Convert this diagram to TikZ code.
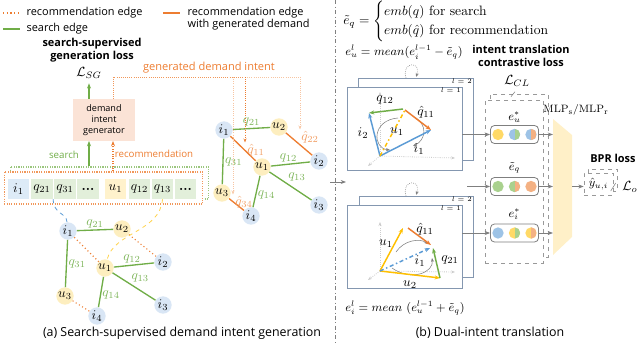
\documentclass[tikz,border=0pt]{standalone}
\usepackage{amsmath,amssymb}
\usepackage{fontspec}
\setsansfont{Open Sans}
\usepackage{tikz}
\usetikzlibrary{arrows.meta,calc,positioning}
\definecolor{intentOrange}{HTML}{ED7D31}
\definecolor{intentGreen}{HTML}{70AD47}
\definecolor{intentBlue}{HTML}{5B9BD5}
\definecolor{intentYellow}{HTML}{FFC000}
\definecolor{itemFill}{HTML}{D9E6F5}
\definecolor{userFill}{HTML}{FDEEBF}
\definecolor{cellBlue}{HTML}{DDEBF7}
\definecolor{cellGreen}{HTML}{E2EFDA}
\definecolor{cellYellow}{HTML}{FFF2CC}
\definecolor{genFill}{HTML}{FBE3D6}
\definecolor{mlpFill}{HTML}{FFF0C8}
\definecolor{dotYellow}{HTML}{FFD966}
\definecolor{dotBlue}{HTML}{9DC3E6}
\definecolor{dotGreen}{HTML}{A9D18E}
\definecolor{dotOrange}{HTML}{F4B183}
\definecolor{intentGray}{HTML}{7F7F7F}
\definecolor{panelGray}{HTML}{8497B0}
\tikzset{
  itemNode/.style={circle, fill=itemFill, inner sep=0pt, minimum size=13pt, font=\normalsize},
  userNode/.style={circle, fill=userFill, inner sep=0pt, minimum size=13pt, font=\normalsize},
  searchEdge/.style={intentGreen, line width=1pt},
  recEdge/.style={intentOrange, line width=0.8pt, dotted},
  genEdge/.style={intentOrange, line width=1pt},
  searchLabel/.style={text=intentGreen!90, font=\normalsize, inner sep=1pt},
  genLabel/.style={text=intentOrange!75, font=\normalsize, inner sep=1pt},
  legendText/.style={font=\sffamily\fontsize{8.2}{9}\selectfont, anchor=west, inner sep=1pt},
  sideText/.style={font=\sffamily\fontsize{7.3}{9}\selectfont, inner sep=1pt},
  boldText/.style={font=\sffamily\bfseries\fontsize{8.2}{10}\selectfont, align=center, inner sep=1pt},
  captionText/.style={font=\sffamily\fontsize{9.3}{11}\selectfont},
  genBox/.style={fill=genFill, minimum width=46.5pt, minimum height=31pt,
    font=\sffamily\fontsize{6.8}{8.4}\selectfont, align=center, inner sep=1pt},
  seqCell/.style={minimum width=16.3pt, minimum height=15pt, inner sep=0pt, font=\normalsize},
  seqFrame/.style={densely dotted, line width=0.8pt, fill=white,
    minimum width=149pt, minimum height=24pt},
  searchArrow/.style={intentGreen, line width=1pt, -{Stealth[length=4pt]}},
  recArrow/.style={intentOrange, densely dotted, line width=0.8pt, -{Stealth[length=4pt]}},
  demandArrow/.style={densely dotted, line width=0.6pt, -{Stealth[length=3pt]}},
  panelFrame/.style={draw=panelGray, line width=0.6pt, fill=white},
  axisArrow/.style={gray!40, densely dotted, line width=0.6pt, -{Stealth[length=3pt]}},
  vecArrow/.style={line width=1.1pt, -{Stealth[length=4pt]}},
  turnArrow/.style={gray, line width=0.4pt, -{Stealth[length=3pt]}},
  loopArrow/.style={gray, densely dotted, line width=0.5pt, -{Stealth[length=3pt]}},
  flowArrow/.style={intentGray, line width=0.6pt, -{Stealth[length=4pt]}},
  embBox/.style={draw=intentGray, rounded corners=3pt, line width=0.6pt,
    minimum width=36pt, minimum height=13.5pt},
  embDot/.style={circle, inner sep=0pt, minimum size=8.5pt, fill=#1},
  halfDot/.style 2 args={circle, inner sep=0pt, minimum size=8.5pt, fill=#1,
    path picture={\fill[#2] (path picture bounding box.north)
      rectangle (path picture bounding box.south east);}},
  groupFrame/.style={draw=intentGray!80, dashed, line width=0.5pt, fill=white},
  panelLabel/.style={font=\normalsize, inner sep=0.5pt},
  mathText/.style={font=\fontsize{9.2}{11}\selectfont, anchor=west, inner sep=0pt}
}
\begin{document}
\begin{tikzpicture}[x=0.75pt,y=-0.75pt]
  \useasboundingbox (0,0) rectangle (640,343);

  % legend
  \node[legendText] (legRec) at (25,13) {recommendation edge};
  \node[legendText] (legSearch) at (25,29) {search edge};
  \node[legendText, align=left] (legGen) at (186,19)
    {recommendation edge\\with generated demand};
  \draw[recEdge] ($(legRec.west)+(-22,0)$) -- ($(legRec.west)+(-5,0)$);
  \draw[searchEdge] ($(legSearch.west)+(-22,0)$) -- ($(legSearch.west)+(-5,0)$);
  \draw[genEdge] ($(legGen.west)+(-23,-6)$) -- ($(legGen.west)+(-6,-6)$);

  % (a) generator
  \node[boldText] (sgText) at (92,50) {search-supervised\\generation loss};
  \node[font=\normalsize] (lsg) at (89,73) {$\mathcal{L}_{SG}$};
  \node[genBox] (gen) at (104,120) {demand\\intent\\generator};
  \draw[searchArrow] (gen.north -| lsg) -- (lsg.south);

  \node[sideText, text=intentOrange, font=\sffamily\fontsize{8.3}{9}\selectfont] (gdText) at (209,68)
    {generated demand intent};
  \coordinate (gdTurn) at (113,77);
  \coordinate (gd34) at (233,77);
  \coordinate (gd11) at (245,77);
  \coordinate (gdEnd) at (300,77);
  \draw[intentOrange!80, densely dotted, line width=0.6pt]
    (gen.north -| gdTurn) -- (gdTurn) -- (gd11);
  \draw[intentOrange!45, densely dotted, line width=0.6pt] (gd11) -- (gdEnd);

  % (a) sequence bar
  \node[sideText, text=intentGreen] (lblSearch) at (64,155) {search};
  \node[sideText, text=intentOrange] (lblRec) at (154,154) {recommendation};
  \node[seqFrame, draw=intentGreen!70] (seqBack) at (109.5,183) {};
  \node[seqFrame, draw=intentOrange!80] (seqFront) at (103.5,188) {};
  \node[seqCell, fill=cellBlue] (cI1) at (18.5,189) {$i_1$};
  \node[seqCell, fill=cellGreen] (cQ21) at (42,189) {$q_{21}$};
  \node[seqCell, fill=cellGreen] (cQ31) at (65,189) {$q_{31}$};
  \node[seqCell, fill=cellGreen] (cDotsA) at (88,189) {\bfseries ...};
  \node[seqCell, fill=cellYellow] (cU1) at (115.5,189) {$u_1$};
  \node[seqCell, fill=cellGreen] (cQ12) at (139.5,189) {$q_{12}$};
  \node[seqCell, fill=cellGreen] (cQ13) at (162.5,189) {$q_{13}$};
  \node[seqCell, fill=cellGreen] (cDotsB) at (185.5,189) {\bfseries ...};
  \draw[searchArrow] (seqBack.north -| lsg) -- (gen.south -| lsg);
  \draw[recArrow] (seqFront.north -| gdTurn) -- (gen.south -| gdTurn);

  % (a) lower graph
  \node[itemNode] (li1) at (68,231) {$i_1$};
  \node[userNode] (lu2) at (122,229) {$u_2$};
  \node[userNode] (lu1) at (105,268) {$u_1$};
  \node[itemNode] (li2) at (163,262) {$i_2$};
  \node[userNode] (lu3) at (65,296) {$u_3$};
  \node[itemNode] (li4) at (97,316) {$i_4$};
  \node[itemNode] (li3) at (163,305) {$i_3$};
  \draw[searchEdge] (li1) -- node[searchLabel, above] {$q_{21}$} (lu2);
  \draw[searchEdge] (li1) -- node[searchLabel, right] {$q_{31}$} (lu3);
  \draw[searchEdge] (lu1) -- node[searchLabel, above, pos=0.45] {$q_{12}$} (li2);
  \draw[searchEdge] (lu1) -- node[searchLabel, above right, pos=0.4] {$q_{13}$} (li3);
  \draw[searchEdge] (lu1) -- node[searchLabel, right, pos=0.6] {$q_{14}$} (li4);
  \draw[recEdge] (li1) -- (lu1);
  \draw[recEdge] (lu2) -- (li2);
  \draw[recEdge] (lu3) -- (li4);
  \draw[intentBlue, dashed, line width=0.6pt] (cQ21.south east)
    .. controls (54,215) and (66,212) .. (li1);
  \draw[intentYellow!70, dashed, line width=0.6pt] (cQ13.south)
    .. controls (160,232) and (114,232) .. (lu1);

  % (a) upper right graph
  \node[itemNode] (ri1) at (224,130) {$i_1$};
  \node[userNode] (ru2) at (279,127) {$u_2$};
  \node[userNode] (ru1) at (262,167) {$u_1$};
  \node[itemNode] (ri2) at (319,161) {$i_2$};
  \node[userNode] (ru3) at (222,193) {$u_3$};
  \node[itemNode] (ri4) at (251,216) {$i_4$};
  \node[itemNode] (ri3) at (319,205) {$i_3$};
  \draw[searchEdge] (ri1) -- node[searchLabel, above] {$q_{21}$} (ru2);
  \draw[searchEdge] (ri1) -- node[searchLabel, right] {$q_{31}$} (ru3);
  \draw[searchEdge] (ru1) -- node[searchLabel, above, pos=0.45] {$q_{12}$} (ri2);
  \draw[searchEdge] (ru1) -- node[searchLabel, above right, pos=0.4] {$q_{13}$} (ri3);
  \draw[searchEdge] (ru1) -- node[searchLabel, right, pos=0.6] {$q_{14}$} (ri4);
  \draw[genEdge] (ri1) -- (ru1);
  \draw[genEdge] (ru2) -- (ri2);
  \draw[genEdge] (ru3) -- (ri4);
  \node[genLabel] (hq11) at (256,150) {$\hat{q}_{11}$};
  \node[genLabel] (hq22) at (310,137) {$\hat{q}_{22}$};
  \node[genLabel] (hq34) at (244,202) {$\hat{q}_{34}$};
  \draw[demandArrow, intentOrange] (gd11) -- (gd11 |- hq11.north);
  \draw[demandArrow, intentOrange!45] (gdEnd) -- (gdEnd |- hq22.north);
  \draw[demandArrow, intentOrange!45] (gd34) -- (gd34 |- hq34.north);

  \node[captionText] (capA) at (182,333)
    {(a) Search-supervised demand intent generation};

  % separator
  \coordinate (sepTop) at (335,0);
  \coordinate (sepBot) at (335,343);
  \draw[gray, dash dot, line width=0.5pt] (sepTop) -- (sepBot);
  \coordinate (midFrom) at (330,182);
  \coordinate (midTo) at (346,182);
  \draw[flowArrow] (midFrom) -- (midTo);

  % (b) formulas
  \node[mathText, font=\fontsize{10.2}{12}\selectfont] (eqEmb) at (343,21.5)
    {\renewcommand{\arraystretch}{0.72}$\tilde{e}_q=\begin{cases}
      emb(q)\text{ for search}\\
      emb(\hat{q})\text{ for recommendation}\end{cases}$};
  \node[mathText] (eqU) at (345,52) {$e_u^l=mean(e_i^{l-1}-\tilde{e}_q)$};
  \node[mathText] (eqI) at (345,308) {$e_i^l=mean\ (e_u^{l-1}+\tilde{e}_q)$};
  \node[boldText] (ctText) at (521,56) {intent translation\\contrastive loss};

  % (b) upper panel
  \node[panelFrame, minimum width=86.25pt, minimum height=61.5pt] (upBack) at (415.5,119) {};
  \node[panelFrame, minimum width=86.25pt, minimum height=62.25pt] (upFront) at (404.5,128.5) {};
  \node[font=\tiny, anchor=north east, inner sep=1pt] (upL2) at (upBack.north east) {$l=2$};
  \node[font=\tiny, anchor=north east, inner sep=1pt] (upL1) at (upFront.north east) {$l=1$};
  \coordinate (uLoopA) at (406,78);
  \coordinate (uLoopB) at (416,77);
  \draw[loopArrow] (uLoopA) .. controls (401,61) and (422,61) .. (uLoopB);
  \coordinate (uO) at (380,156);
  \coordinate (uAxY) at (380,92);
  \coordinate (uAxX) at (455,158);
  \coordinate (uAxZ) at (368,166);
  \draw[axisArrow] (uO) -- (uAxY);
  \draw[axisArrow] (uO) -- (uAxX);
  \draw[axisArrow] (uO) -- (uAxZ);
  \coordinate (uI2) at (369,113);
  \coordinate (uQa) at (403,109);
  \coordinate (uQb) at (405,110);
  \coordinate (uI1) at (431,130);
  \draw[turnArrow] (398,118) .. controls (372,120) and (372,148) .. (390,150);
  \draw[turnArrow] (414,117) .. controls (428,124) and (426,140) .. (413,146);
  \draw[vecArrow, intentBlue] (uO) -- (uI2);
  \draw[vecArrow, intentGreen] (uQa) -- (uI2);
  \draw[vecArrow, intentOrange] (uQb) -- (uI1);
  \draw[vecArrow, intentBlue] (uO) -- (uI1);
  \draw[intentYellow, line width=1.1pt, dash dot] (uO) -- (uQb);
  \node[panelLabel] (uLq12) at (385,100) {$q_{12}$};
  \node[panelLabel] (uLq11) at (426,112) {$\hat{q}_{11}$};
  \node[panelLabel] (uLi2) at (363,133) {$i_2$};
  \node[panelLabel] (uLu1) at (397,132) {$u_1$};
  \node[panelLabel] (uLi1) at (419,149) {$i_1$};

  % (b) lower panel
  \node[panelFrame, minimum width=85.5pt, minimum height=60.75pt] (loBack) at (416,236.5) {};
  \node[panelFrame, minimum width=86.25pt, minimum height=62.25pt] (loFront) at (404.5,246.5) {};
  \node[font=\tiny, anchor=north east, inner sep=1pt] (loL2) at (loBack.north east) {$l=2$};
  \node[font=\tiny, anchor=north east, inner sep=1pt] (loL1) at (loFront.north east) {$l=1$};
  \coordinate (lLoopA) at (406,196);
  \coordinate (lLoopB) at (416,195);
  \draw[loopArrow] (lLoopA) .. controls (401,179) and (422,179) .. (lLoopB);
  \coordinate (lO) at (380,271);
  \coordinate (lAxY) at (380,222);
  \coordinate (lAxX) at (455,272);
  \coordinate (lAxZ) at (368,280);
  \draw[axisArrow] (lO) -- (lAxY);
  \draw[axisArrow] (lO) -- (lAxX);
  \draw[axisArrow] (lO) -- (lAxZ);
  \coordinate (lU1) at (403,228);
  \coordinate (lQa) at (408,228);
  \coordinate (lQb) at (431,245);
  \coordinate (lU2) at (440,278);
  \coordinate (lQc) at (433,248);
  \coordinate (lI1) at (430,248);
  \draw[turnArrow] (396,252) .. controls (404,240) and (420,238) .. (428,244);
  \draw[turnArrow] (392,268) .. controls (412,282) and (434,272) .. (432,258);
  \draw[vecArrow, intentYellow] (lO) -- (lU1);
  \draw[vecArrow, intentOrange] (lQa) -- (lQb);
  \draw[vecArrow, intentYellow] (lO) -- (lU2);
  \draw[vecArrow, intentGreen] (lU2) -- (lQc);
  \draw[vecArrow, intentBlue, dash dot] (lO) -- (lI1);
  \node[panelLabel] (lLq11) at (425,229) {$\hat{q}_{11}$};
  \node[panelLabel] (lLu1) at (386,244) {$u_1$};
  \node[panelLabel] (lLi1) at (420,261) {$i_1$};
  \node[panelLabel] (lLq21) at (450,260) {$q_{21}$};
  \node[panelLabel] (lLu2) at (410,285) {$u_2$};

  % (b) embeddings
  \node[groupFrame, minimum width=43.5pt, minimum height=122.25pt] (grpBack) at (519,175.5) {};
  \node[groupFrame, minimum width=43.5pt, minimum height=122.25pt] (grpFront) at (514,181.5) {};
  \node[font=\normalsize] (lcl) at (517,81) {$\mathcal{L}_{CL}$};
  \draw[intentGray, line width=0.4pt] ($(grpBack.north)+(-8,3)$) -- ($(grpBack.north)+(-4,-2)$);
  \node[embBox] (boxU) at (514.5,134.5) {};
  \node[embBox] (boxQ) at (514.5,186.5) {};
  \node[embBox] (boxI) at (514.5,233) {};
  \node[font=\small] (lblU) at (514.5,117) {$e_u^*$};
  \node[font=\small] (lblQ) at (514.5,168) {$\tilde{e}_q$};
  \node[font=\small] (lblI) at (514.5,214) {$e_i^*$};
  \node[embDot=dotYellow] (dU1) at ($(boxU.center)+(-16.5,0)$) {};
  \node[halfDot={dotBlue}{dotGreen}] (dU2) at (boxU.center) {};
  \node[halfDot={dotBlue}{dotOrange}] (dU3) at ($(boxU.center)+(16.5,0)$) {};
  \node[embDot=dotGreen] (dQ1) at ($(boxQ.center)+(-16.5,0)$) {};
  \node[halfDot={dotGreen}{dotOrange}] (dQ2) at (boxQ.center) {};
  \node[embDot=dotOrange] (dQ3) at ($(boxQ.center)+(16.5,0)$) {};
  \node[embDot=dotBlue] (dI1) at ($(boxI.center)+(-16.5,0)$) {};
  \node[halfDot={dotYellow}{dotGreen}] (dI2) at (boxI.center) {};
  \node[halfDot={dotYellow}{dotOrange}] (dI3) at ($(boxI.center)+(16.5,0)$) {};
  \coordinate (qIn) at (467,186.5);
  \draw[flowArrow] (upFront.east |- boxU) -- (boxU.west);
  \draw[flowArrow] (qIn) -- (boxQ.west);
  \draw[flowArrow] (loFront.east |- boxI) -- (boxI.west);

  % (b) MLP and output
  \coordinate (mlpTL) at (553,119);
  \coordinate (mlpTR) at (572,135);
  \coordinate (mlpBR) at (572,237);
  \coordinate (mlpBL) at (553,255);
  \fill[mlpFill] (mlpTL) -- (mlpTR) -- (mlpBR) -- (mlpBL) -- cycle;
  \node[font=\footnotesize] (mlpLbl) at (576,110) {$\mathrm{MLP_s/MLP_r}$};
  \draw[flowArrow] (boxU.east) -- (boxU.east -| mlpTL);
  \draw[flowArrow] (boxQ.east) -- (boxQ.east -| mlpTL);
  \draw[flowArrow] (boxI.east) -- (boxI.east -| mlpTL);
  \node[boldText] (bpr) at (613,158) {BPR loss};
  \node[groupFrame, minimum width=21.75pt, minimum height=16.5pt] (yBack) at (602.5,180) {};
  \node[groupFrame, minimum width=21.75pt, minimum height=16.5pt, font=\small] (yFront) at (598.5,184) {$\hat{y}_{u,i}$};
  \node[font=\normalsize] (lo) at (630,187) {$\mathcal{L}_o$};
  \draw[intentGray, line width=0.4pt] ($(lo.west)+(-7,4)$) -- ($(lo.west)+(-2,-4)$);
  \draw[flowArrow] (mlpBR |- boxQ) -- (yFront.west |- boxQ);

  \node[captionText] (capB) at (490,333) {(b) Dual-intent translation};
\end{tikzpicture}
\end{document}
